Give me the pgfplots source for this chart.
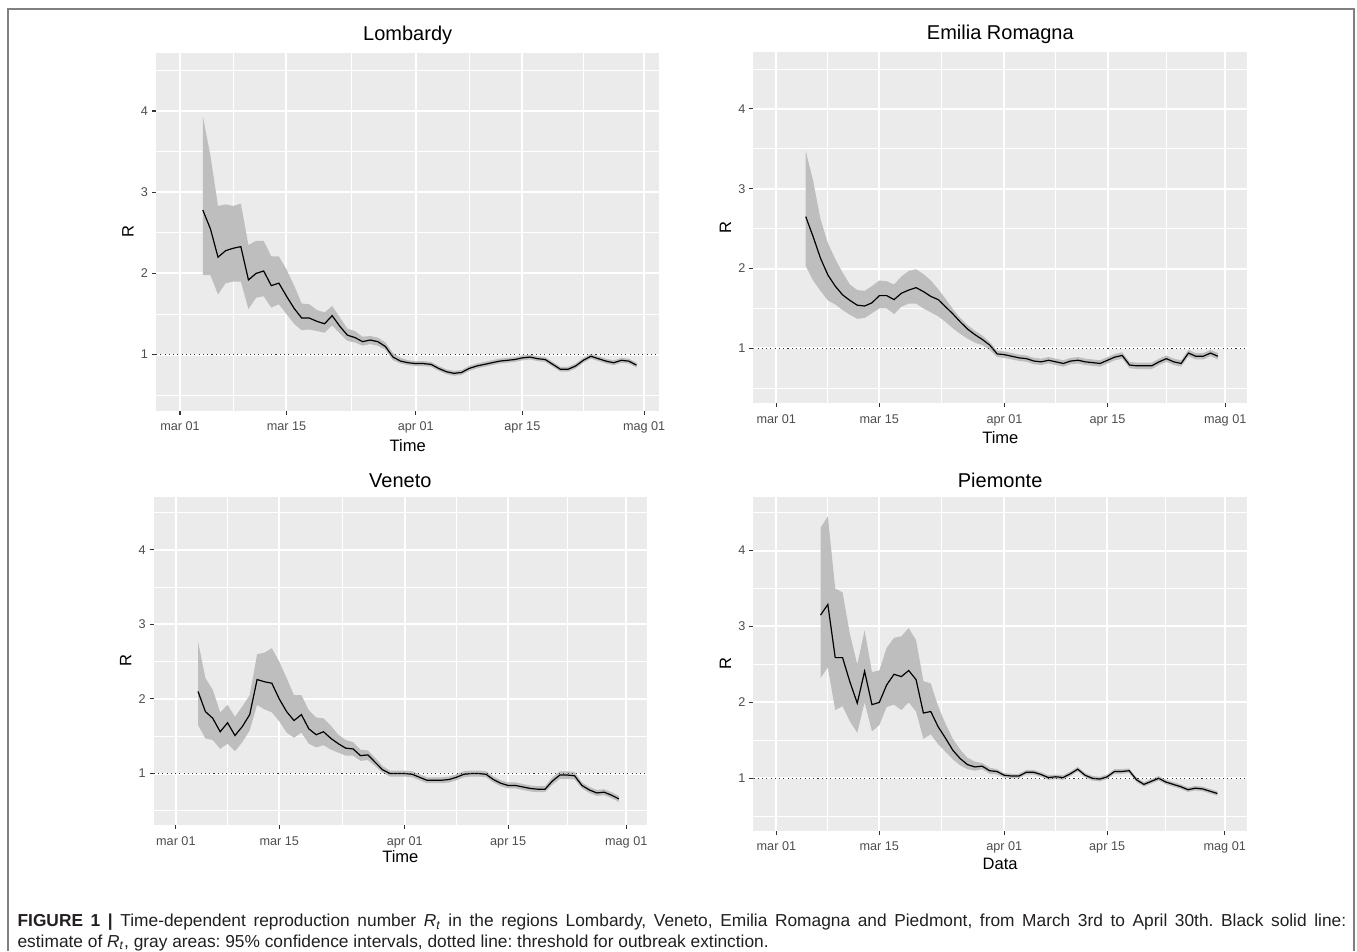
\documentclass[border=0pt]{standalone}
\usepackage{pgfplots}
\pgfplotsset{compat=1.18}
\usepackage{pgfplotstable}
\usepgfplotslibrary{fillbetween}
\usepackage{fontspec}
\setmainfont{Liberation Sans}
\frenchspacing
\definecolor{ggbg}{HTML}{EBEBEB}
\definecolor{ggtick}{HTML}{333333}
\definecolor{gglab}{HTML}{4D4D4D}
\definecolor{ribbon}{HTML}{BEBEBE}
\definecolor{framec}{HTML}{808080}
\definecolor{captxt}{HTML}{231F20}

\pgfplotstableread{
d est lo hi
3 2.78 1.98 3.94
4 2.55 1.98 3.45
5 2.20 1.74 2.83
6 2.28 1.88 2.85
7 2.31 1.90 2.83
8 2.33 1.90 2.86
9 1.92 1.56 2.35
10 2.00 1.70 2.40
11 2.03 1.72 2.40
12 1.85 1.58 2.21
13 1.88 1.62 2.21
14 1.72 1.50 2.05
15 1.57 1.38 1.85
16 1.45 1.30 1.63
17 1.45 1.31 1.62
18 1.41 1.29 1.55
19 1.38 1.27 1.52
20 1.48 1.36 1.60
21 1.35 1.26 1.46
22 1.24 1.17 1.32
23 1.21 1.15 1.29
24 1.16 1.11 1.22
25 1.18 1.13 1.23
26 1.16 1.11 1.21
27 1.10 1.06 1.15
28 0.97 0.93 1.02
29 0.92 0.89 0.96
30 0.90 0.87 0.93
31 0.89 0.86 0.92
32 0.89 0.86 0.92
33 0.88 0.85 0.91
34 0.83 0.80 0.86
35 0.79 0.76 0.82
36 0.77 0.74 0.80
37 0.78 0.75 0.81
38 0.83 0.80 0.86
39 0.86 0.83 0.89
40 0.88 0.85 0.91
41 0.90 0.87 0.93
42 0.92 0.89 0.95
43 0.93 0.90 0.96
44 0.94 0.91 0.97
45 0.96 0.93 0.99
46 0.97 0.94 1.00
47 0.95 0.92 0.98
48 0.94 0.91 0.97
49 0.88 0.85 0.91
50 0.82 0.79 0.85
51 0.82 0.79 0.85
52 0.86 0.83 0.89
53 0.93 0.90 0.96
54 0.98 0.95 1.01
55 0.95 0.92 0.98
56 0.92 0.89 0.95
57 0.90 0.87 0.93
58 0.93 0.90 0.96
59 0.92 0.89 0.95
60 0.87 0.84 0.90
}\lomb

\pgfplotstableread{
d est lo hi
4 2.65 2.03 3.47
5 2.40 1.85 3.10
6 2.13 1.72 2.62
7 1.92 1.60 2.32
8 1.78 1.55 2.12
9 1.67 1.48 1.95
10 1.60 1.42 1.80
11 1.54 1.37 1.73
12 1.53 1.38 1.72
13 1.57 1.44 1.78
14 1.66 1.50 1.85
15 1.66 1.50 1.84
16 1.61 1.43 1.80
17 1.69 1.52 1.90
18 1.73 1.56 1.97
19 1.76 1.56 1.99
20 1.71 1.50 1.93
21 1.65 1.45 1.85
22 1.61 1.40 1.74
23 1.52 1.33 1.62
24 1.43 1.25 1.49
25 1.33 1.18 1.38
26 1.24 1.12 1.29
27 1.17 1.07 1.22
28 1.11 1.04 1.16
29 1.04 0.98 1.08
30 0.93 0.89 0.97
31 0.92 0.88 0.96
32 0.90 0.86 0.94
33 0.88 0.84 0.92
34 0.87 0.83 0.91
35 0.84 0.80 0.88
36 0.83 0.79 0.87
37 0.85 0.81 0.89
38 0.83 0.79 0.87
39 0.81 0.77 0.85
40 0.84 0.80 0.88
41 0.85 0.81 0.89
42 0.83 0.79 0.87
43 0.82 0.78 0.86
44 0.81 0.77 0.85
45 0.85 0.81 0.89
46 0.89 0.85 0.93
47 0.91 0.87 0.95
48 0.79 0.75 0.83
49 0.78 0.74 0.82
50 0.78 0.74 0.82
51 0.78 0.74 0.82
52 0.83 0.79 0.87
53 0.87 0.83 0.91
54 0.83 0.79 0.87
55 0.81 0.77 0.85
56 0.94 0.90 0.98
57 0.90 0.86 0.94
58 0.90 0.86 0.94
59 0.94 0.90 0.98
60 0.90 0.86 0.94
}\emil

\pgfplotstableread{
d est lo hi
3 2.10 1.65 2.77
4 1.83 1.47 2.28
5 1.74 1.45 2.12
6 1.56 1.33 1.82
7 1.68 1.40 1.92
8 1.51 1.30 1.76
9 1.63 1.42 1.90
10 1.79 1.58 2.05
11 2.26 1.92 2.60
12 2.23 1.86 2.62
13 2.21 1.82 2.68
14 2.00 1.70 2.50
15 1.83 1.55 2.28
16 1.71 1.48 2.05
17 1.79 1.55 2.05
18 1.60 1.40 1.85
19 1.52 1.35 1.75
20 1.56 1.38 1.74
21 1.47 1.32 1.64
22 1.40 1.28 1.52
23 1.34 1.24 1.45
24 1.33 1.24 1.42
25 1.24 1.17 1.32
26 1.25 1.18 1.31
27 1.15 1.10 1.21
28 1.05 1.01 1.10
29 1.00 0.96 1.04
30 1.00 0.96 1.04
31 1.00 0.96 1.04
32 0.99 0.95 1.03
33 0.95 0.91 0.99
34 0.91 0.87 0.95
35 0.91 0.87 0.95
36 0.91 0.87 0.95
37 0.92 0.88 0.96
38 0.95 0.91 0.99
39 0.99 0.95 1.03
40 1.00 0.96 1.04
41 1.00 0.96 1.04
42 0.99 0.95 1.03
43 0.92 0.88 0.96
44 0.87 0.83 0.91
45 0.84 0.80 0.88
46 0.84 0.80 0.88
47 0.82 0.78 0.86
48 0.80 0.76 0.84
49 0.79 0.75 0.83
50 0.79 0.75 0.83
51 0.90 0.85 0.95
52 0.98 0.93 1.03
53 0.98 0.93 1.03
54 0.97 0.92 1.02
55 0.84 0.80 0.88
56 0.78 0.74 0.82
57 0.74 0.70 0.78
58 0.75 0.71 0.79
59 0.71 0.67 0.75
60 0.66 0.62 0.70
}\vene

\pgfplotstableread{
d est lo hi
6 3.15 2.32 4.30
7 3.29 2.46 4.45
8 2.59 1.90 3.50
9 2.59 1.95 3.45
10 2.27 1.75 2.90
11 1.99 1.60 2.50
12 2.41 2.00 2.95
13 1.97 1.62 2.40
14 2.00 1.70 2.42
15 2.23 1.94 2.72
16 2.37 1.97 2.85
17 2.34 1.90 2.87
18 2.42 2.00 2.98
19 2.30 1.88 2.82
20 1.86 1.52 2.28
21 1.88 1.58 2.25
22 1.68 1.45 1.95
23 1.53 1.35 1.72
24 1.37 1.25 1.52
25 1.26 1.17 1.38
26 1.18 1.12 1.27
27 1.15 1.10 1.22
28 1.16 1.12 1.20
29 1.10 1.06 1.14
30 1.09 1.05 1.12
31 1.04 1.01 1.07
32 1.03 1.00 1.06
33 1.03 1.00 1.06
34 1.08 1.05 1.11
35 1.08 1.05 1.11
36 1.05 1.02 1.08
37 1.01 0.98 1.04
38 1.02 0.99 1.05
39 1.01 0.98 1.04
40 1.06 1.03 1.09
41 1.12 1.09 1.15
42 1.04 1.01 1.07
43 1.00 0.97 1.03
44 0.99 0.96 1.02
45 1.02 0.99 1.05
46 1.09 1.06 1.12
47 1.09 1.06 1.12
48 1.10 1.07 1.13
49 0.98 0.95 1.01
50 0.92 0.89 0.95
51 0.96 0.93 0.99
52 1.00 0.97 1.03
53 0.95 0.92 0.98
54 0.92 0.89 0.95
55 0.89 0.86 0.92
56 0.85 0.82 0.88
57 0.87 0.84 0.90
58 0.86 0.83 0.89
59 0.83 0.80 0.86
60 0.80 0.77 0.83
}\piem

\pgfplotsset{
  ggpanel/.style={
    scale only axis,
    anchor=south west,
    axis background/.style={fill=ggbg},
    axis line style={draw=none},
    xtick={0,14,31,45,61},
    xticklabels={mar 01,mar 15,apr 01,apr 15,mag 01},
    minor xtick={7,22.5,38,53},
    ytick={1,2,3,4},
    yticklabels={1,2,3,4},
    minor ytick={0.5,1.5,2.5,3.5,4.5},
    ymin=0.31, ymax=4.71,
    grid=both,
    major grid style={white, line width=1.5pt},
    minor grid style={white, line width=0.75pt},
    tick align=outside,
    xtick pos=left, ytick pos=left,
    major tick length=3pt,
    minor tick length=0pt,
    every tick/.style={ggtick, line width=0.8pt},
    tick label style={font=\fontsize{9.5}{10}\selectfont, text=gglab},
    xticklabel style={yshift=-0.2pt, text height=1.6ex, text depth=0.45ex},
    yticklabel style={xshift=0.5pt},
    label style={font=\fontsize{12.4}{14}\selectfont, text=black},
    title style={font=\fontsize{15}{17}\selectfont, at={(0.5,1)}, anchor=center},
    xlabel style={at={(0.5,0)}, anchor=center},
    ylabel style={at={(0,0.5)}, anchor=center, yshift=21pt},
    ylabel={R},
  },
  ribbonfill/.style={fill=ribbon, draw=none},
  estline/.style={black, line width=0.9pt},
  thr/.style={ggtick, line width=0.8pt, dash pattern=on 0.8pt off 2.4pt},
}

\begin{document}
\begin{tikzpicture}
\draw[framec, line width=1.1pt] (6pt,-713.25pt) -- (6pt,-6.75pt) -- (1015.5pt,-6.75pt) -- (1015.5pt,-713.25pt);

% Lombardy
\begin{axis}[ggpanel, at={(117.0pt,-308.0pt)}, width=377.5pt, height=268pt,
  xmin=-3.15, xmax=63.0, title={Lombardy}, xlabel={Time},
  title style={yshift=7.2pt}, xlabel style={yshift=-25.9pt}]
\addplot[name path=hi, draw=none, forget plot] table[x=d,y=hi]{\lomb};
\addplot[name path=lo, draw=none, forget plot] table[x=d,y=lo]{\lomb};
\addplot[ribbonfill] fill between[of=hi and lo];
\addplot[estline] table[x=d,y=est]{\lomb};
\addplot[thr] coordinates {(-3.15,1) (63.0,1)};
\end{axis}

% Emilia Romagna
\begin{axis}[ggpanel, at={(565.0pt,-302.5pt)}, width=370.5pt, height=263.3pt,
  xmin=-3.12, xmax=64.0, title={Emilia Romagna}, xlabel={Time},
  title style={yshift=7.2pt}, xlabel style={yshift=-25.7pt}]
\addplot[name path=hi, draw=none, forget plot] table[x=d,y=hi]{\emil};
\addplot[name path=lo, draw=none, forget plot] table[x=d,y=lo]{\emil};
\addplot[ribbonfill] fill between[of=hi and lo];
\addplot[estline] table[x=d,y=est]{\emil};
\addplot[thr] coordinates {(-3.12,1) (64.0,1)};
\end{axis}

% Veneto
\begin{axis}[ggpanel, at={(115.3pt,-618.75pt)}, width=369.9pt, height=246.2pt,
  xmin=-3.0, xmax=63.8, title={Veneto}, xlabel={Time},
  title style={yshift=6.0pt}, xlabel style={yshift=-23.4pt}]
\addplot[name path=hi, draw=none, forget plot] table[x=d,y=hi]{\vene};
\addplot[name path=lo, draw=none, forget plot] table[x=d,y=lo]{\vene};
\addplot[ribbonfill] fill between[of=hi and lo];
\addplot[estline] table[x=d,y=est]{\vene};
\addplot[thr] coordinates {(-3.0,1) (63.8,1)};
\end{axis}

% Piemonte
\begin{axis}[ggpanel, at={(565.1pt,-623.0pt)}, width=370pt, height=250.5pt,
  xmin=-3.12, xmax=64.0, title={Piemonte}, xlabel={Data},
  title style={yshift=6.0pt}, xlabel style={yshift=-24.7pt}]
\addplot[name path=hi, draw=none, forget plot] table[x=d,y=hi]{\piem};
\addplot[name path=lo, draw=none, forget plot] table[x=d,y=lo]{\piem};
\addplot[ribbonfill] fill between[of=hi and lo];
\addplot[estline] table[x=d,y=est]{\piem};
\addplot[thr] coordinates {(-3.12,1) (64.0,1)};
\end{axis}

% caption
\node[anchor=base west, inner sep=0pt, text=captxt, font=\fontsize{13}{15}\selectfont] at (13pt,-695pt)
  {\makebox[996.5pt][s]{\textbf{FIGURE 1 |} Time-dependent reproduction number \textit{R}\textsubscript{\textit{t}} in the regions Lombardy, Veneto, Emilia Romagna and Piedmont, from March 3rd to April 30th. Black solid line:}};
\node[anchor=base west, inner sep=0pt, text=captxt, font=\fontsize{13}{15}\selectfont] at (13pt,-710.5pt)
  {estimate of \textit{R}\textsubscript{\textit{t}}, gray areas: 95\% confidence intervals, dotted line: threshold for outbreak extinction.};

\pgfresetboundingbox
\path (0pt,0pt) rectangle (1017.75pt,-713.25pt);
\end{tikzpicture}
\end{document}
